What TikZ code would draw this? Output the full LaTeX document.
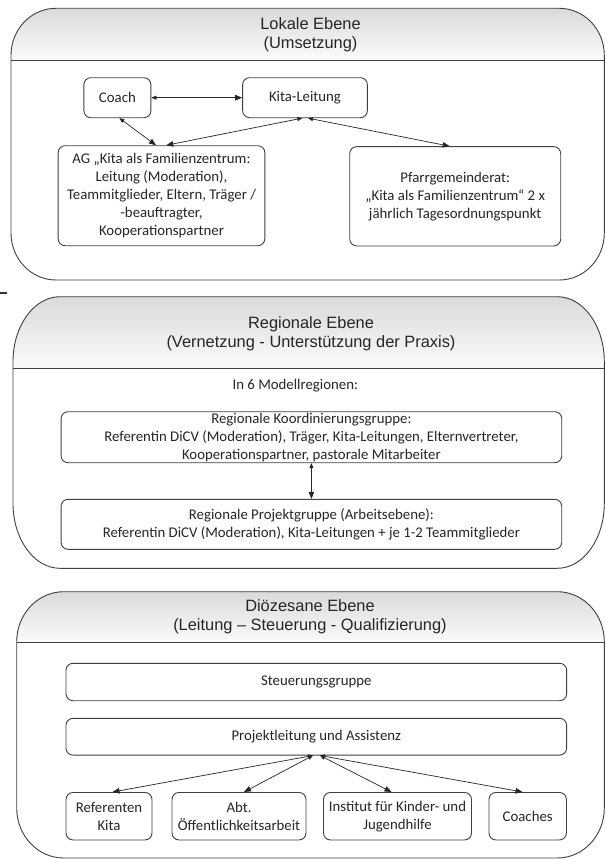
\documentclass[tikz,border=0pt]{standalone}
\usepackage{fontspec}
\setmainfont{Carlito}
\newfontfamily\titlefont{Liberation Sans}
\usetikzlibrary{arrows.meta}
\definecolor{edgecol}{HTML}{404040}
\definecolor{hdtop}{HTML}{DADADA}
\definecolor{hdbot}{HTML}{FBFBFB}
\definecolor{txtcol}{HTML}{262626}
\newcommand{\bodyfont}{\fontsize{14.8}{18}\selectfont}
\newcommand{\headfont}{\titlefont\fontsize{16.4}{19.3}\selectfont}
% x1 y1 x2 y2 rx ry headerline-y
\newcommand{\pnl}[7]{%
  \begin{scope}
    \clip (#1,#2+#6) arc[start angle=180,end angle=270,x radius=#5,y radius=#6]
      -- (#3-#5,#2) arc[start angle=270,end angle=360,x radius=#5,y radius=#6]
      -- (#3,#7) -- (#1,#7) -- cycle;
    \shade[top color=hdtop,bottom color=hdbot] (#1,#2) rectangle (#3,#7);
  \end{scope}
  \draw[panelline] (#1,#2+#6) arc[start angle=180,end angle=270,x radius=#5,y radius=#6]
      -- (#3-#5,#2) arc[start angle=270,end angle=360,x radius=#5,y radius=#6]
      -- (#3,#4-#6) arc[start angle=0,end angle=90,x radius=#5,y radius=#6]
      -- (#1+#5,#4) arc[start angle=90,end angle=180,x radius=#5,y radius=#6]
      -- cycle;
  \draw[panelline] (#1,#7) -- (#3,#7);
}
\tikzset{
  panelline/.style={draw=edgecol,line width=0.9pt},
  box/.style={draw=edgecol,line width=0.9pt,rounded corners=7pt,align=center,
    inner sep=0pt,font=\bodyfont,text=txtcol},
  plain/.style={align=center,inner sep=0pt,font=\bodyfont,text=txtcol},
  heading/.style={align=center,inner sep=0pt,font=\headfont,text=txtcol},
  conn/.style={{Triangle[length=5pt,width=4pt]}-{Triangle[length=7pt,width=5.5pt]},
    line width=0.7pt,draw=black!85}
}
\begin{document}
\begin{tikzpicture}[x=1pt,y=-1pt]
\useasboundingbox (0,0) rectangle (605,859);
\clip (0,0) rectangle (605,859);
\fill[white] (0,0) rectangle (605,859);

% panels
\pnl{11}{8.3}{604.3}{280}{45}{47}{60}
\pnl{13}{296.7}{604.3}{568.3}{47}{65}{368.3}
\pnl{16.7}{591.7}{604.3}{858}{47}{50}{642.7}

% stray dash
\draw[line width=2.2pt,black!80] (0,292.8) -- (6.7,292.8);

% headings
\node[heading] (t1) at (310.5,34.9) {Lokale Ebene\\(Umsetzung)};
\node[heading] (t2) at (311,333.5) {Regionale Ebene\\(Vernetzung - Unterstützung der Praxis)};
\node[heading] (t3) at (310,617) {Diözesane Ebene\\(Leitung – Steuerung - Qualifizierung)};

% local level
\node[box,minimum width=67pt,minimum height=40pt] (coach) at (117.4,97.7) {Coach};
\node[box,minimum width=124.7pt,minimum height=40pt] (kita) at (305,97.7) {Kita-Leitung};
\node[box,minimum width=206.7pt,minimum height=100pt] (ag) at (161.5,195.7)
  {AG „Kita als Familienzentrum:\\Leitung (Moderation),\\Teammitglieder, Eltern, Träger /\\-beauftragter,\\Kooperationspartner};
\node[box,minimum width=211pt,minimum height=99.3pt] (pfarr) at (455.2,196.3)
  {Pfarrgemeinderat:\\„Kita als Familienzentrum“ 2 x\\jährlich Tagesordnungspunkt};

\draw[conn] (coach.east) -- (kita.west);
\draw[conn] ([xshift=2pt]coach.south) -- ([xshift=-5.5pt]ag.north);
\draw[conn] ([xshift=-2.7pt]kita.south) -- ([xshift=4.8pt]ag.north);
\draw[conn] ([xshift=3pt]kita.south) -- ([xshift=-5.5pt]pfarr.north);

% regional level
\node[plain] (modreg) at (295.3,386) {In 6 Modellregionen:};
\node[box,minimum width=500.7pt,minimum height=51pt] (koord) at (311.4,437.2)
  {Regionale Koordinierungsgruppe:\\Referentin DiCV (Moderation), Träger, Kita-Leitungen, Elternvertreter,\\Kooperationspartner, pastorale Mitarbeiter};
\node[box,minimum width=500.7pt,minimum height=50pt] (projekt) at (311.4,524.3)
  {Regionale Projektgruppe (Arbeitsebene):\\Referentin DiCV (Moderation), Kita-Leitungen + je 1-2 Teammitglieder};
\draw[conn] (koord.south) -- (projekt.north);

% diocesan level
\node[box,minimum width=500.7pt,minimum height=37.4pt] (steuer) at (316.3,682) {Steuerungsgruppe};
\node[box,minimum width=500.7pt,minimum height=36.7pt] (projl) at (316.3,736.7) {Projektleitung und Assistenz};
\node[box,minimum width=86pt,minimum height=47.5pt] (ref) at (109,816.2) {Referenten\\Kita};
\node[box,minimum width=134pt,minimum height=47.5pt] (abt) at (239,816.2) {Abt.\\Öffentlichkeitsarbeit};
\node[box,minimum width=148pt,minimum height=47.5pt] (inst) at (397.5,816.2) {Institut für Kinder- und\\Jugendhilfe};
\node[box,minimum width=77.5pt,minimum height=47.5pt] (coaches) at (527.7,816.2) {Coaches};

\draw[conn] ([xshift=-3.3pt]projl.south) -- ([xshift=3.5pt]ref.north);
\draw[conn] ([xshift=-3.3pt]projl.south) -- ([xshift=5pt]abt.north);
\draw[conn] ([xshift=3.7pt]projl.south) -- ([xshift=-6pt]inst.north);
\draw[conn] ([xshift=3.7pt]projl.south) -- ([xshift=-5.2pt]coaches.north);
\end{tikzpicture}
\end{document}
